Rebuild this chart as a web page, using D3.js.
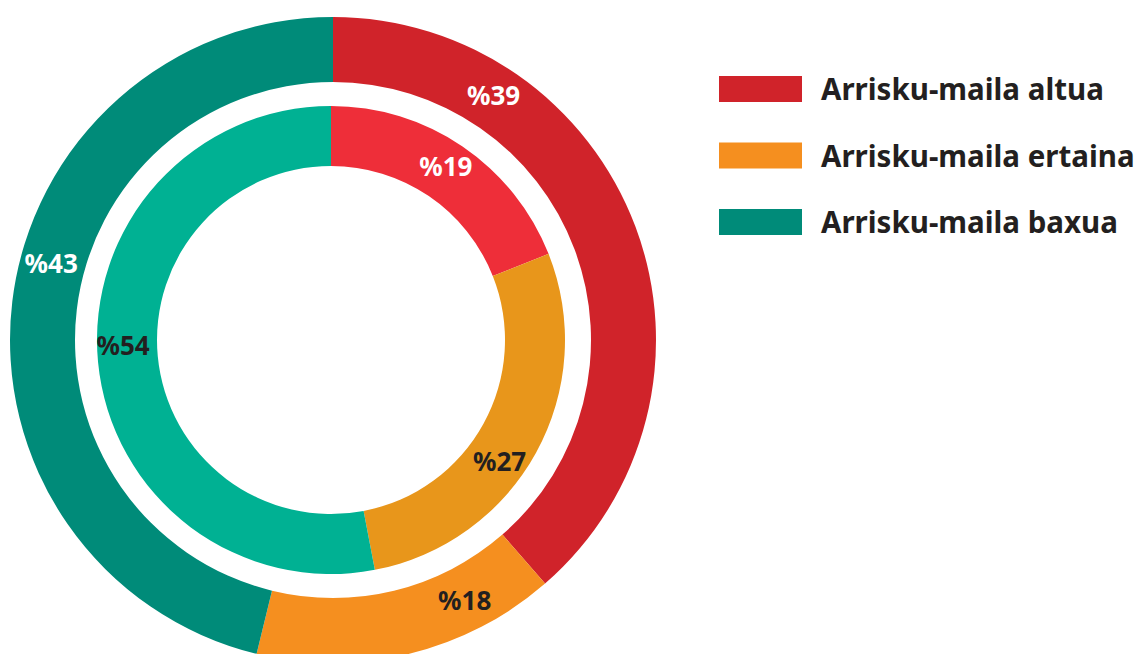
<!DOCTYPE html>
<html lang="eu">
  <head>
    <meta charset="utf-8">
    <script src="https://d3js.org/d3.v7.min.js"></script>
    <style>
    body { margin: 0; background: #fff; }
    text { font-family: "Noto Sans", sans-serif; font-weight: bold; }
    </style>
  </head>
  <body>
    <div id="place"></div>
    <script type="text/javascript">
    // categories + values (outer ring, inner ring)
    var categories = ["Arrisku-maila altua", "Arrisku-maila ertaina", "Arrisku-maila baxua"];
    var outerValues = [38.6, 15.2, 46.2];
    var outerLabels = ["%39", "%18", "%43"];
    var innerValues = [19, 28, 53];
    var innerLabels = ["%19", "%27", "%54"];

    var outerColors = ["#d0232a", "#f58f1f", "#008b79"];
    var innerColors = ["#ee2e39", "#e8961b", "#00b193"];
    var outerText = ["#fff", "#231f20", "#fff"];
    var innerText = ["#fff", "#231f20", "#231f20"];
    // where the label sits inside its slice (0 = start, 1 = end)
    var outerLabelPos = [0.24, 0.26, 0.55];
    var innerLabelPos = [0.49, 0.57, 0.52];

    var width = 1139, height = 654;
    var svg = d3.select('#place').append('svg')
        .attr('width', width)
        .attr('height', height);

    var pie = d3.pie().sort(null).value(d => d);

    function ring(cx, cy, r0, r1, values, colors, labels, txtColors, labelPos, labelR) {
      var g = svg.append('g').attr('transform', 'translate(' + cx + ',' + cy + ')');
      var arc = d3.arc().innerRadius(r0).outerRadius(r1);
      var arcs = pie(values);
      g.selectAll('path')
        .data(arcs)
        .enter().append('path')
        .attr('d', arc)
        .attr('fill', (d, i) => colors[i]);

      g.selectAll('text')
        .data(arcs)
        .enter().append('text')
        .attr('transform', function(d, i) {
          var a = d.startAngle + (d.endAngle - d.startAngle) * labelPos[i];
          return 'translate(' + (Math.sin(a) * labelR) + ',' + (-Math.cos(a) * labelR) + ')';
        })
        .attr('text-anchor', 'middle')
        .attr('dy', '0.36em')
        .style('font-size', '26px')
        .style('fill', (d, i) => txtColors[i])
        .text((d, i) => labels[i]);
    }

    ring(333, 340, 258, 323, outerValues, outerColors, outerLabels, outerText, outerLabelPos, 292);
    ring(331, 340, 174, 234, innerValues, innerColors, innerLabels, innerText, innerLabelPos, 208);

    // legend
    var legend = svg.append('g').attr('transform', 'translate(719,76)');
    var item = legend.selectAll('g')
      .data(categories)
      .enter().append('g')
      .attr('transform', (d, i) => 'translate(0,' + (i * 66.5) + ')');
    item.append('rect')
      .attr('width', 83)
      .attr('height', 26)
      .attr('fill', (d, i) => outerColors[i]);
    item.append('text')
      .attr('x', 102)
      .attr('y', 24)
      .style('font-size', '29.5px')
      .style('fill', '#231f20')
      .text(d => d);
    </script>
  </body>
</html>
